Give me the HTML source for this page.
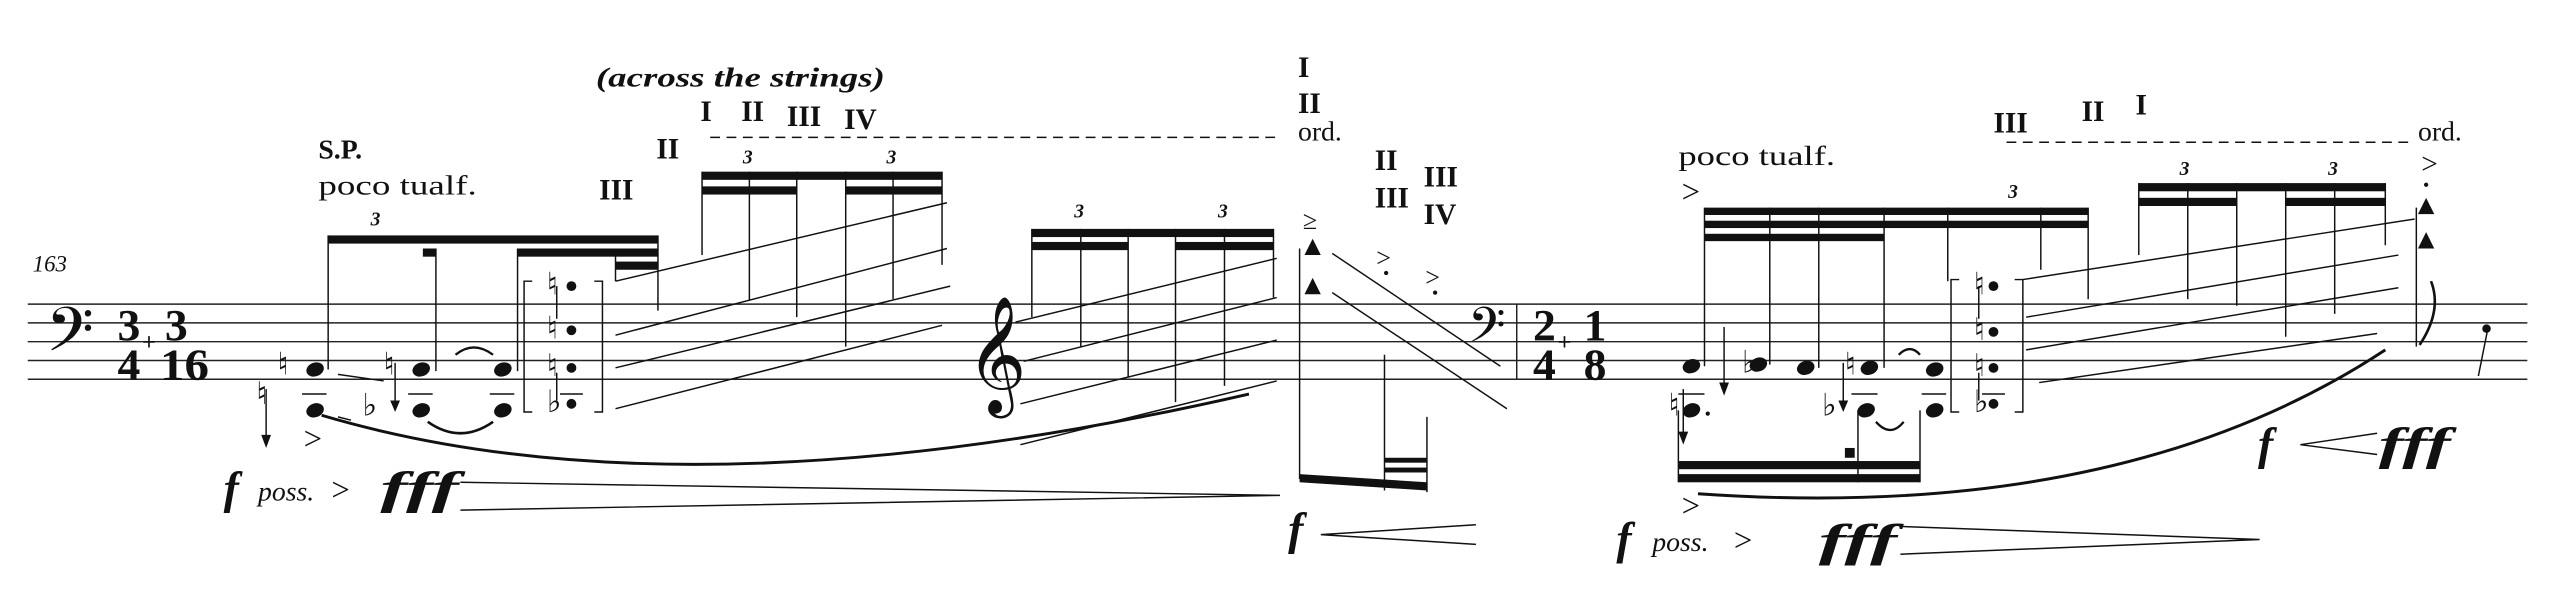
<!DOCTYPE html>
<html><head><meta charset="utf-8"><style>
html,body{margin:0;padding:0;background:#fff;}
svg{display:block;}
text{font-family:"Liberation Serif","DejaVu Serif",serif;fill:#111;}
.b{font-weight:bold;}
.i{font-style:italic;}
</style></head><body>
<svg width="2560" height="600" viewBox="0 0 1568 367" preserveAspectRatio="none" xmlns="http://www.w3.org/2000/svg">
<g stroke="#222" stroke-width="0.9">
<line x1="17" y1="186" x2="1548" y2="186"/>
<line x1="17" y1="197.5" x2="1548" y2="197.5"/>
<line x1="17" y1="209" x2="1548" y2="209"/>
<line x1="17" y1="220.5" x2="1548" y2="220.5"/>
<line x1="17" y1="232" x2="1548" y2="232"/>
<line x1="929" y1="186" x2="929" y2="232"/>
</g>
<text x="20" y="166" class="i" font-size="14" font-family="Liberation Serif">163</text>
<text x="28" y="222" font-size="46" font-family="DejaVu Serif">𝄢</text>
<text x="72" y="208" class="b" font-size="27" textLength="14" lengthAdjust="spacingAndGlyphs">3</text><text x="72" y="232" class="b" font-size="27" textLength="14" lengthAdjust="spacingAndGlyphs">4</text>
<text x="87" y="214" class="b" font-size="15">+</text>
<text x="101" y="208" class="b" font-size="27" textLength="14" lengthAdjust="spacingAndGlyphs">3</text><text x="98" y="232" class="b" font-size="27" textLength="30" lengthAdjust="spacingAndGlyphs">16</text>
<text x="365" y="53" class="b i" font-size="17" textLength="177" lengthAdjust="spacingAndGlyphs">(across the strings)</text>
<text x="429" y="74" class="b" font-size="18">I</text>
<text x="454" y="74" class="b" font-size="18">II</text>
<text x="482" y="77" class="b" font-size="18">III</text>
<text x="517" y="79" class="b" font-size="18">IV</text>
<text x="402" y="97" class="b" font-size="18">II</text>
<text x="367" y="122" class="b" font-size="18">III</text>
<text x="195" y="97" class="b" font-size="17">S.P.</text>
<text x="195" y="119" font-size="17" textLength="97" lengthAdjust="spacingAndGlyphs">poco tualf.</text>
<text x="227" y="138" class="b i" font-size="12">3</text>
<text x="455" y="100" class="b i" font-size="12">3</text>
<text x="543" y="100" class="b i" font-size="12">3</text>
<text x="658" y="133" class="b i" font-size="12">3</text>
<text x="746" y="133" class="b i" font-size="12">3</text>
<text x="795" y="47" class="b" font-size="18">I</text>
<text x="795" y="69" class="b" font-size="18">II</text>
<text x="795" y="86" font-size="17">ord.</text>
<text x="842" y="104" class="b" font-size="18">II</text>
<text x="842" y="127" class="b" font-size="18">III</text>
<text x="872" y="114" class="b" font-size="18">III</text>
<text x="872" y="137" class="b" font-size="18">IV</text>
<text x="798" y="140" font-size="16">≥</text>
<text x="843" y="163" font-size="16">&gt;</text><circle cx="849" cy="167" r="1.3" fill="#111"/>
<text x="873" y="175" font-size="16">&gt;</text><circle cx="879" cy="179" r="1.3" fill="#111"/>
<text x="899" y="215" font-size="36" font-family="DejaVu Serif">𝄢</text>
<text x="939" y="208" class="b" font-size="27" textLength="14" lengthAdjust="spacingAndGlyphs">2</text><text x="939" y="232" class="b" font-size="27" textLength="14" lengthAdjust="spacingAndGlyphs">4</text>
<text x="954" y="214" class="b" font-size="15">+</text>
<text x="970" y="208" class="b" font-size="27" textLength="14" lengthAdjust="spacingAndGlyphs">1</text><text x="970" y="232" class="b" font-size="27" textLength="14" lengthAdjust="spacingAndGlyphs">8</text>
<text x="592" y="238" font-size="62" font-family="DejaVu Serif">𝄞</text>
<text x="1028" y="101" font-size="17" textLength="96" lengthAdjust="spacingAndGlyphs">poco tualf.</text>
<text x="1221" y="81" class="b" font-size="18">III</text>
<text x="1275" y="74" class="b" font-size="18">II</text>
<text x="1308" y="70" class="b" font-size="18">I</text>
<text x="1481" y="86" font-size="17">ord.</text>
<text x="1230" y="121" class="b i" font-size="12">3</text>
<text x="1335" y="107" class="b i" font-size="12">3</text>
<text x="1426" y="107" class="b i" font-size="12">3</text>
<text x="1030" y="124" font-size="20">&gt;</text>
<text x="1483" y="106" font-size="18">&gt;</text><circle cx="1486" cy="113" r="1.3" fill="#111"/>
<text x="186" y="275" font-size="20">&gt;</text>
<text x="1030" y="316" font-size="20">&gt;</text>
<text x="137" y="308" class="b i" font-size="28">f</text>
<text x="158" y="306" class="i" font-size="17">poss.</text>
<text x="203" y="306" font-size="20">&gt;</text>
<text x="233" y="308" class="b i" font-size="28" textLength="48" lengthAdjust="spacingAndGlyphs">fff</text>
<text x="789" y="333" class="b i" font-size="28">f</text>
<text x="990" y="339" class="b i" font-size="28">f</text>
<text x="1012" y="337" class="i" font-size="17">poss.</text>
<text x="1062" y="337" font-size="20">&gt;</text>
<text x="1114" y="340" class="b i" font-size="28" textLength="48" lengthAdjust="spacingAndGlyphs">fff</text>
<text x="1383" y="281" class="b i" font-size="28">f</text>
<text x="1457" y="281" class="b i" font-size="28" textLength="44" lengthAdjust="spacingAndGlyphs">fff</text>
<g font-size="19" font-family="DejaVu Sans">
<text x="170" y="229">♮</text><text x="157" y="247">♮</text>
<text x="222" y="254">♭</text><text x="235" y="229">♮</text>
<text x="335" y="180">♮</text><text x="335" y="207">♮</text><text x="335" y="230">♮</text><text x="335" y="252">♭</text>
<text x="1022" y="254">♮</text><text x="1067" y="228">♭</text>
<text x="1116" y="254">♭</text><text x="1130" y="229">♮</text>
<text x="1209" y="180">♮</text><text x="1209" y="208">♮</text><text x="1209" y="230">♮</text><text x="1209" y="252">♭</text>
</g>
<g stroke="#111" fill="none" stroke-width="0.9">
<line x1="435" y1="84" x2="784" y2="84" stroke-dasharray="6,4"/>
<line x1="1229" y1="87" x2="1476" y2="87" stroke-dasharray="6,4"/>
<line x1="201" y1="144" x2="201" y2="226"/>
<line x1="267" y1="152" x2="267" y2="227"/>
<line x1="317" y1="152" x2="317" y2="227"/>
<line x1="377" y1="152" x2="377" y2="172"/>
<line x1="403" y1="144" x2="403" y2="190"/>
<line x1="163" y1="238" x2="163" y2="272"/><line x1="242" y1="222" x2="242" y2="250"/>
<line x1="341" y1="175" x2="341" y2="195"/><line x1="341" y1="228" x2="341" y2="245"/>
<line x1="1031" y1="238" x2="1031" y2="270"/><line x1="1056" y1="200" x2="1056" y2="240"/><line x1="1129" y1="222" x2="1129" y2="250"/>
<line x1="1212" y1="175" x2="1212" y2="195"/><line x1="1212" y1="228" x2="1212" y2="245"/>
<line x1="185" y1="241" x2="200" y2="241"/><line x1="250" y1="241" x2="265" y2="241"/><line x1="300" y1="241" x2="315" y2="241"/><line x1="343" y1="241" x2="357" y2="241"/>
<line x1="1028" y1="241" x2="1044" y2="241"/><line x1="1134" y1="241" x2="1150" y2="241"/><line x1="1177" y1="241" x2="1192" y2="241"/><line x1="1214" y1="241" x2="1228" y2="241"/>
<line x1="207" y1="229" x2="235" y2="233"/><line x1="207" y1="255" x2="215" y2="257"/>
<polyline points="326,172 321,172 321,252 326,252"/><polyline points="364,172 369,172 369,252 364,252"/>
<polyline points="1200,171 1195,171 1195,252 1200,252"/><polyline points="1234,171 1239,171 1239,252 1234,252"/>
<path d="M262 258 Q282 272 302 258" stroke-width="1.6"/>
<path d="M279 217 Q290 208 302 217" stroke-width="1.4"/>
<path d="M1149 258 Q1158 268 1166 258" stroke-width="1.4"/>
<path d="M1163 217 Q1170 210 1176 217" stroke-width="1.4"/>
<path d="M197 254 Q420 320 765 241" stroke-width="1.8"/>
<path d="M1040 302 Q1300 320 1461 214" stroke-width="1.8"/>
<polyline points="282,295 784,303 282,312"/>
<polyline points="904,321 809,327 904,333"/>
<polyline points="1164,322 1384,330 1164,339"/>
<polyline points="1456,265 1409,272 1456,278"/>
<line x1="377" y1="172" x2="580" y2="124"/><line x1="377" y1="205" x2="580" y2="152"/>
<line x1="377" y1="225" x2="582" y2="175"/><line x1="377" y1="250" x2="577" y2="199"/>
<line x1="622" y1="197" x2="782" y2="158"/><line x1="627" y1="221" x2="782" y2="182"/>
<line x1="625" y1="247" x2="782" y2="208"/><line x1="625" y1="272" x2="782" y2="233"/>
<line x1="816" y1="155" x2="919" y2="224"/><line x1="816" y1="179" x2="923" y2="250"/>
<line x1="1239" y1="171" x2="1479" y2="134"/><line x1="1241" y1="194" x2="1469" y2="156"/>
<line x1="1241" y1="214" x2="1469" y2="176"/><line x1="1249" y1="234" x2="1456" y2="204"/>
<line x1="430" y1="105" x2="430" y2="156"/><line x1="459" y1="105" x2="459" y2="184"/>
<line x1="488" y1="105" x2="488" y2="194"/><line x1="518" y1="105" x2="518" y2="212"/>
<line x1="547" y1="105" x2="547" y2="183"/><line x1="577" y1="105" x2="577" y2="162"/>
<line x1="632" y1="140" x2="632" y2="194"/><line x1="662" y1="140" x2="662" y2="212"/>
<line x1="691" y1="140" x2="691" y2="231"/><line x1="720" y1="140" x2="720" y2="246"/>
<line x1="750" y1="140" x2="750" y2="236"/><line x1="780" y1="140" x2="780" y2="182"/>
<line x1="796" y1="152" x2="796" y2="293"/><line x1="848" y1="217" x2="848" y2="300"/><line x1="874" y1="255" x2="874" y2="301"/>
<line x1="1044" y1="127" x2="1044" y2="224"/><line x1="1084" y1="127" x2="1084" y2="223"/>
<line x1="1114" y1="127" x2="1114" y2="225"/><line x1="1154" y1="127" x2="1154" y2="225"/>
<line x1="1193" y1="127" x2="1193" y2="172"/><line x1="1250" y1="127" x2="1250" y2="165"/>
<line x1="1279" y1="127" x2="1279" y2="183"/>
<line x1="1028" y1="251" x2="1028" y2="295"/><line x1="1138" y1="251" x2="1138" y2="295"/><line x1="1176" y1="251" x2="1176" y2="295"/>
<line x1="1310" y1="112" x2="1310" y2="156"/><line x1="1340" y1="112" x2="1340" y2="183"/>
<line x1="1370" y1="112" x2="1370" y2="187"/><line x1="1400" y1="112" x2="1400" y2="206"/>
<line x1="1430" y1="112" x2="1430" y2="192"/><line x1="1461" y1="112" x2="1461" y2="150"/>
<line x1="1480" y1="127" x2="1480" y2="212"/>
<path d="M1489 172 Q1496 190 1482 211" stroke-width="1.6"/>
<path d="M1524 200 L1518 230" />
</g>
<g fill="#111">
<rect x="201" y="144" width="202" height="5"/>
<rect x="317" y="152" width="86" height="5"/><rect x="377" y="160" width="26" height="5"/><rect x="259" y="152" width="8" height="5"/>
<rect x="430" y="105" width="147" height="5"/><rect x="430" y="114" width="58" height="5"/><rect x="518" y="114" width="59" height="5"/>
<rect x="632" y="140" width="148" height="5"/><rect x="632" y="148" width="59" height="5"/><rect x="720" y="148" width="60" height="5"/>
<polygon points="796,290 874,295 874,300 796,295"/>
<rect x="848" y="280" width="26" height="3"/><rect x="848" y="286" width="26" height="3"/>
<rect x="1044" y="127" width="235" height="4.5"/><rect x="1044" y="135" width="235" height="4.5"/><rect x="1044" y="143" width="110" height="4.5"/>
<rect x="1028" y="282" width="148" height="5"/><rect x="1028" y="290" width="148" height="5"/><rect x="1130" y="274" width="6" height="6"/>
<rect x="1310" y="112" width="151" height="5"/><rect x="1310" y="121" width="60" height="5"/><rect x="1400" y="121" width="61" height="5"/>
<circle cx="1523" cy="201" r="2.6"/>
<polygon points="804,146 799,156 809,156"/><polygon points="804,170 799,180 809,180"/>
<polygon points="1486,121 1481,131 1491,131"/><polygon points="1486,142 1481,152 1491,152"/>
<polygon points="163,274 160,266 166,266"/><polygon points="242,252 239,245 245,245"/>
<polygon points="1031,272 1028,264 1034,264"/><polygon points="1056,242 1053,234 1059,234"/><polygon points="1129,252 1126,245 1132,245"/>
<ellipse cx="193" cy="226" rx="5.5" ry="4.2" transform="rotate(-20 193 226)"/>
<ellipse cx="193" cy="251" rx="5.5" ry="4.2" transform="rotate(-20 193 251)"/>
<ellipse cx="258" cy="226" rx="5.5" ry="4.2" transform="rotate(-20 258 226)"/>
<ellipse cx="258" cy="251" rx="5.5" ry="4.2" transform="rotate(-20 258 251)"/>
<ellipse cx="308" cy="226" rx="5.5" ry="4.2" transform="rotate(-20 308 226)"/>
<ellipse cx="308" cy="251" rx="5.5" ry="4.2" transform="rotate(-20 308 251)"/>
<circle cx="350" cy="175" r="3"/><circle cx="350" cy="202" r="3"/><circle cx="350" cy="225" r="3"/><circle cx="350" cy="247" r="3"/>
<ellipse cx="1036" cy="224" rx="5.5" ry="4.2" transform="rotate(-20 1036 224)"/>
<ellipse cx="1036" cy="251" rx="5.5" ry="4.2" transform="rotate(-20 1036 251)"/><circle cx="1046" cy="253" r="1.3"/>
<ellipse cx="1077" cy="223" rx="5.5" ry="4.2" transform="rotate(-20 1077 223)"/>
<ellipse cx="1106" cy="225" rx="5.5" ry="4.2" transform="rotate(-20 1106 225)"/>
<ellipse cx="1145" cy="225" rx="5.5" ry="4.2" transform="rotate(-20 1145 225)"/>
<ellipse cx="1143" cy="251" rx="5.5" ry="4.2" transform="rotate(-20 1143 251)"/>
<ellipse cx="1185" cy="226" rx="5.5" ry="4.2" transform="rotate(-20 1185 226)"/>
<ellipse cx="1185" cy="251" rx="5.5" ry="4.2" transform="rotate(-20 1185 251)"/>
<circle cx="1221" cy="175" r="3"/><circle cx="1221" cy="203" r="3"/><circle cx="1221" cy="225" r="3"/><circle cx="1221" cy="247" r="3"/>
</g>
</svg>
</body></html>
